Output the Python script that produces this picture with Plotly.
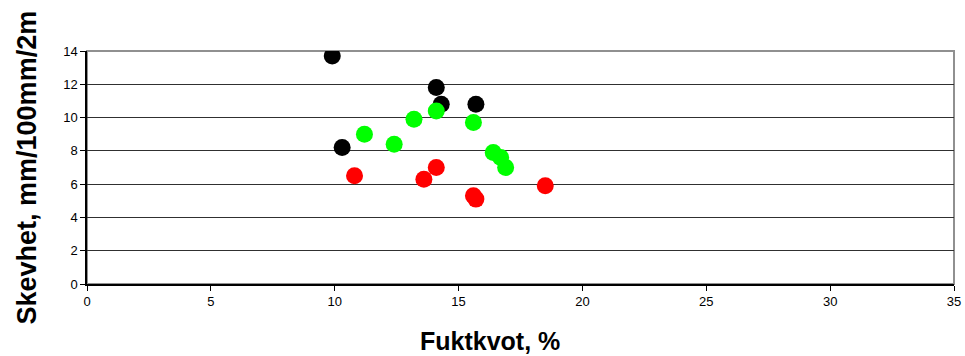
import plotly.graph_objects as go

# Moisture content (%) vs. twist (mm/100mm/2m), three groups
black_x = [9.9, 14.1, 14.3, 15.7, 10.3]
black_y = [13.7, 11.8, 10.8, 10.8, 8.2]

green_x = [11.2, 12.4, 13.2, 14.1, 15.6, 16.4, 16.7, 16.9]
green_y = [9.0, 8.4, 9.9, 10.4, 9.7, 7.9, 7.6, 7.0]

red_x = [10.8, 13.6, 14.1, 15.6, 15.7, 18.5]
red_y = [6.5, 6.3, 7.0, 5.3, 5.1, 5.9]

x_ticks = [0, 5, 10, 15, 20, 25, 30, 35]
y_ticks = [0, 2, 4, 6, 8, 10, 12, 14]

fig = go.Figure()
for xs, ys, col in [(black_x, black_y, "#000000"),
                    (green_x, green_y, "#00ff00"),
                    (red_x, red_y, "#ff0000")]:
    fig.add_trace(go.Scatter(
        x=xs, y=ys, mode="markers",
        marker=dict(size=17, color=col, line=dict(width=0)),
        showlegend=False,
    ))

# plot-area frame (top/right in grey)
fig.add_shape(type="rect", xref="paper", yref="paper", x0=0, y0=0, x1=1, y1=1,
              line=dict(color="#909090", width=2), layer="below")

fig.update_layout(
    width=965, height=356,
    margin=dict(l=87, r=4, t=51, b=72),
    paper_bgcolor="white", plot_bgcolor="white",
    font=dict(family="Liberation Sans, Arial, sans-serif", size=13, color="black"),
    xaxis=dict(range=[0, 35], tickvals=x_ticks, showgrid=False, zeroline=False,
               showline=True, linecolor="black", linewidth=1.5,
               ticks="outside", ticklen=5, tickcolor="black",
               tickfont=dict(size=13), ticklabeloverflow="allow"),
    yaxis=dict(range=[0, 14], tickvals=y_ticks, showgrid=True, gridcolor="#303030",
               gridwidth=1, zeroline=False,
               showline=True, linecolor="black", linewidth=1.5,
               ticks="outside", ticklen=5, tickcolor="black",
               tickfont=dict(size=13)),
    annotations=[
        dict(text="<b>Fuktkvot, %</b>", xref="paper", yref="paper",
             x=0.465, y=0, yshift=-57, showarrow=False,
             font=dict(size=25), xanchor="center", yanchor="middle"),
        dict(text="<b>Skevhet, mm/100mm/2m</b>", xref="paper", yref="paper",
             x=0, xshift=-61, y=0.5, yshift=0, showarrow=False, textangle=-90,
             font=dict(size=27), xanchor="center", yanchor="middle"),
    ],
)

fig.write_html("out.html")
